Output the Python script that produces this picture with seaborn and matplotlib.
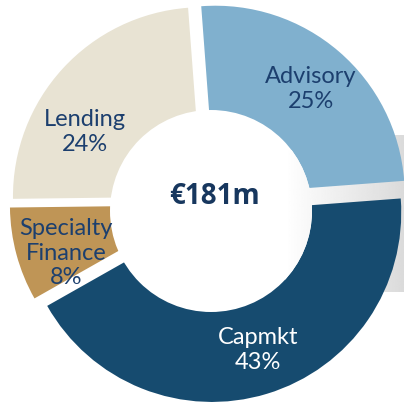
import numpy as np
import matplotlib.pyplot as plt
import seaborn as sns
from matplotlib.patches import Circle

sns.set_theme(style="white")
plt.rcParams["font.family"] = ["Lato", "DejaVu Sans"]

# -----------------------------------------------------------
# DATA
# -----------------------------------------------------------
segments = ["Advisory", "Capmkt", "Specialty\nFinance", "Lending"]
shares = [25, 43, 8, 24]
total_label = "€181m"

colors = ["#80b0ce", "#164b6f", "#bf9556", "#e8e3d3"]
text_colors = ["#1c3f6e", "#ffffff", "#1c3f6e", "#1c3f6e"]
explode = [10, 10.5, 10, 9]   # pixels, pie uses data units here

# layout in pixel space (y measured from the top of the 404px image)
W = 404
center = (208.9, 202.6)
radius = 189.3
hole_center = (211, 211)
hole_radius = 101
label_pos = [(311, 89), (258, 350), (66, 253), (85, 132)]

fig = plt.figure(figsize=(4.04, 4.04), dpi=100)
ax = fig.add_axes([0, 0, 1, 1])

# grey shaded band on the right (visible through the gaps)
grad = np.linspace(1.0, 0.85, 200)[None, :].repeat(2, axis=0)
ax.imshow(grad, cmap="gray", vmin=0, vmax=1, aspect="auto",
          extent=(285, 410, W - 292, W - 135), zorder=0)

wedges, _ = ax.pie(shares, colors=colors, explode=explode, startangle=94.3,
                   counterclock=False, radius=radius,
                   center=(center[0], W - center[1]),
                   wedgeprops=dict(linewidth=0), frame=True)
for w in wedges:
    w.set_zorder(1)

hole = Circle((hole_center[0], W - hole_center[1]), hole_radius,
              facecolor="white", edgecolor="none", zorder=2)
ax.add_patch(hole)

# faint shading of the band across the right side of the hole
im2 = ax.imshow(grad, cmap="gray", vmin=0, vmax=1, aspect="auto",
                extent=(285, 410, W - 305, W - 150), zorder=3)
im2.set_clip_path(Circle((hole_center[0], W - hole_center[1]), hole_radius,
                         transform=ax.transData))

for name, val, (x, y), tc in zip(segments, shares, label_pos, text_colors):
    ax.text(x, W - y, f"{name}\n{val}%", ha="center", va="center",
            fontsize=17, color=tc, linespacing=1.2, zorder=5)

ax.text(hole_center[0] + 3, W - 197, total_label, ha="center", va="center",
        fontsize=20, fontweight="bold", color="#17375e",
        family=["Open Sans", "DejaVu Sans"], zorder=5)

ax.set_xlim(0, W)
ax.set_ylim(0, W)
ax.set_aspect("equal")
ax.axis("off")

plt.savefig("out.png", dpi=100)
plt.close()
